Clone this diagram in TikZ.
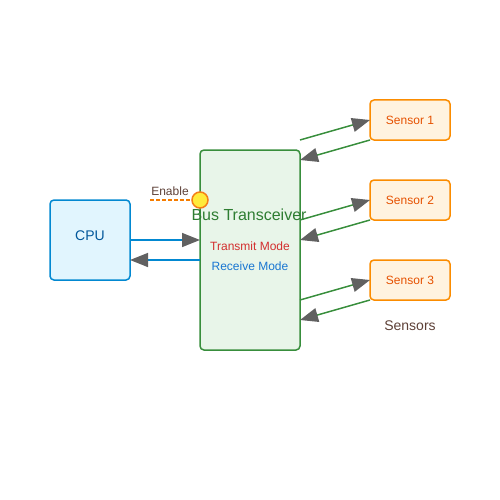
\documentclass[tikz,border=0pt]{standalone}
\usepackage{fontspec}
\setmainfont{Liberation Sans}
\usetikzlibrary{arrows.meta}
\definecolor{cpufill}{HTML}{E1F5FE}
\definecolor{cpuline}{HTML}{0288D1}
\definecolor{cputext}{HTML}{01579B}
\definecolor{busfill}{HTML}{E8F5E9}
\definecolor{busline}{HTML}{388E3C}
\definecolor{bustext}{HTML}{2E7D32}
\definecolor{senfill}{HTML}{FFF3E0}
\definecolor{senline}{HTML}{FB8C00}
\definecolor{sentext}{HTML}{E65100}
\definecolor{txred}{HTML}{D32F2F}
\definecolor{rxblue}{HTML}{1976D2}
\definecolor{brownlab}{HTML}{5D4037}
\definecolor{tipgray}{HTML}{616161}
\definecolor{enyellow}{HTML}{FFEB3B}
\definecolor{enorange}{HTML}{F57F17}
\definecolor{dashorange}{HTML}{F57C00}
\tikzset{
  box/.style={draw, line width=1.5pt, rounded corners=4pt, inner sep=0pt, outer sep=0pt},
  sensorbox/.style={box, fill=senfill, draw=senline, minimum width=80pt, minimum height=40pt, text=sentext, font=\fontsize{12}{14}\selectfont},
  link/.style={line width=1.5pt, -{Triangle[length=18pt,width=14pt,color=tipgray]}},
  lab/.style={inner sep=0pt, font=\fontsize{12}{14}\selectfont},
}
\begin{document}
\begin{tikzpicture}[x=1pt,y=-1pt]
\useasboundingbox (0,0) rectangle (500,500);
% CPU
\node[box, fill=cpufill, draw=cpuline, minimum width=80pt, minimum height=80pt, anchor=north west] (cpu) at (50,200) {};
\node[lab, text=cputext, font=\fontsize{14}{16}\selectfont] (cpulab) at (90,235.5) {CPU};
% Bus
\node[box, fill=busfill, draw=busline, minimum width=100pt, minimum height=200pt, anchor=north west] (bus) at (200,150) {};
\node[lab, text=bustext, font=\fontsize{16}{18}\selectfont] (buslab) at (249,214.5) {Bus Transceiver};
\node[lab, text=txred] (tx) at (250,246) {Transmit Mode};
\node[lab, text=rxblue] (rx) at (250,266) {Receive Mode};
% Sensors
\node[sensorbox, anchor=north west, text depth=0pt] (s1) at (370,100) {Sensor 1};
\node[sensorbox, anchor=north west, text depth=0pt] (s2) at (370,180) {Sensor 2};
\node[sensorbox, anchor=north west, text depth=0pt] (s3) at (370,260) {Sensor 3};
\node[lab, text=brownlab, font=\fontsize{14}{16}\selectfont] (senslab) at (410,325.5) {Sensors};
% CPU <-> bus
\draw[link, draw=cpuline] (cpu.east |- 0,240) -- (bus.west |- 0,240);
\draw[link, draw=cpuline] (bus.west |- 0,260) -- (cpu.east |- 0,260);
% bus <-> sensors
\draw[link, draw=busline] (bus.east |- 0,140) -- (s1.west |- 0,120);
\draw[link, draw=busline] (s1.south west) -- (bus.east |- 0,160);
\draw[link, draw=busline] (bus.east |- 0,220) -- (s2.west |- 0,200);
\draw[link, draw=busline] (s2.south west) -- (bus.east |- 0,240);
\draw[link, draw=busline] (bus.east |- 0,300) -- (s3.west |- 0,280);
\draw[link, draw=busline] (s3.south west) -- (bus.east |- 0,320);
% Enable
\coordinate (enstart) at (150,200);
\node[circle, fill=enyellow, draw=enorange, line width=1.5pt, minimum size=16pt, inner sep=0pt, outer sep=0pt] (en) at (200,200) {};
\draw[dashed, dash pattern=on 4pt off 2pt, draw=dashorange, line width=1.5pt] (enstart) -- (en.west);
\node[lab, text=brownlab] (enlab) at (170,191) {Enable};
\end{tikzpicture}
\end{document}
